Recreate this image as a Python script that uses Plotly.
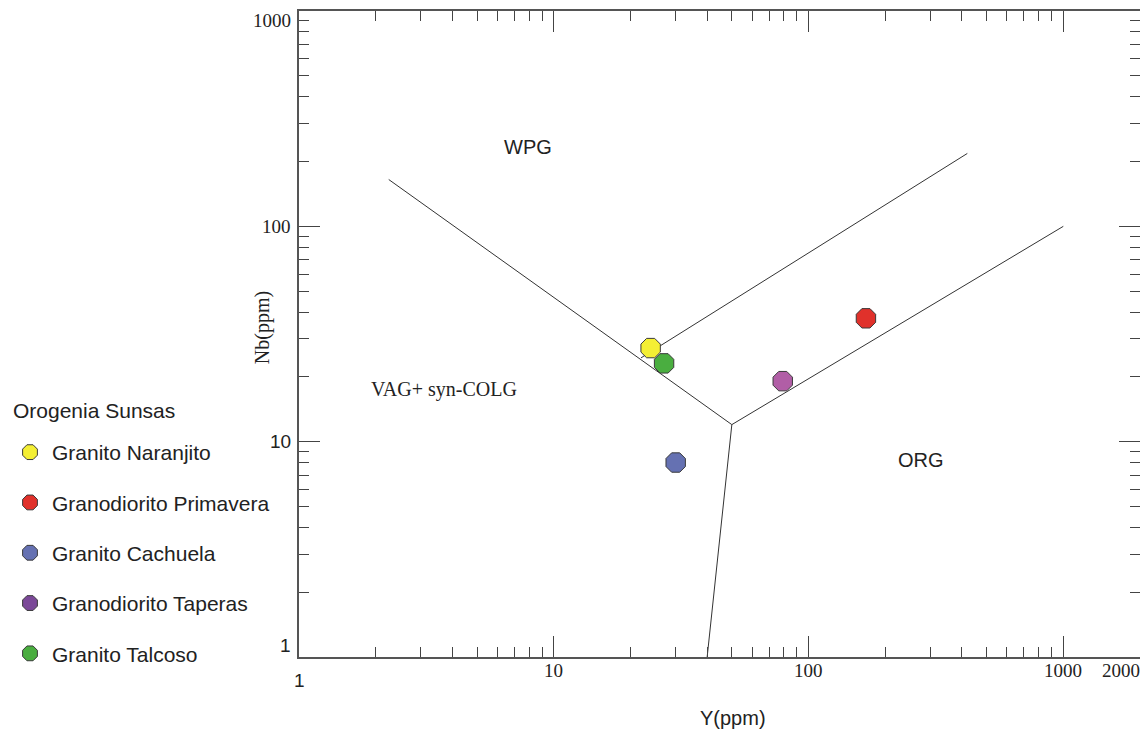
import math
import plotly.graph_objects as go

# ---------------- data ----------------
units = ["Granito Naranjito", "Granodiorito Primavera", "Granito Cachuela",
         "Granodiorito Taperas", "Granito Talcoso"]
y_ppm = [24.0, 168.0, 30.1, 79.2, 27.1]
nb_ppm = [27.2, 37.4, 8.0, 19.1, 23.1]
point_colors = ["#f4ef34", "#e0312b", "#6571b2", "#b15ea6", "#4aae40"]
legend_colors = ["#f4ef34", "#e0312b", "#6571b2", "#7b4898", "#4aae40"]

# tectonic discrimination boundaries (Pearce et al. 1984)
boundary_y = [[2.25, 50], [50, 40], [50, 1000], [22, 420]]
boundary_nb = [[165, 12], [12, 1], [12, 100], [24.5, 218]]

region_names = ["WPG", "VAG+ syn-COLG", "ORG"]
region_y = [7.9, 3.7, 276]
region_nb = [233, 17.5, 8.2]
region_fonts = ["Liberation Sans", "Liberation Serif", "Liberation Sans"]

x_tick_vals = [1, 10, 100, 1000, 2000]
x_tick_text = ["1", "10", "100", "1000", "2000"]
x_tick_fonts = ["Liberation Sans", "Liberation Serif", "Liberation Serif",
                "Liberation Serif", "Liberation Serif"]
x_tick_anchor = ["center", "center", "center", "center", "right"]
x_tick_shift = [-23, -13, -13, -13, -13]

y_tick_vals = [1, 10, 100, 1000]
y_tick_text = ["1", "10", "100", "1000"]
y_tick_fonts = ["Liberation Sans", "Liberation Sans", "Liberation Serif", "Liberation Serif"]
y_tick_shift = [12, 0, 0, -9]

legend_title = "Orogenia Sunsas"

# ---------------- figure ----------------
# the page body has an 8px margin, so the figure is sized/offset to compensate
W, H = 1140, 725
ML, MR, MT, MB = 291, 8, 2.5, 76
plot_h = H - MT - MB
plot_w = W - ML - MR

fig = go.Figure()

for bx, by in zip(boundary_y, boundary_nb):
    fig.add_trace(go.Scatter(x=bx, y=by, mode="lines",
                             line=dict(color="#333333", width=1),
                             showlegend=False, hoverinfo="skip"))

for name, xv, yv, c in zip(units, y_ppm, nb_ppm, point_colors):
    fig.add_trace(go.Scatter(x=[xv], y=[yv], mode="markers", name=name,
                             marker=dict(symbol="octagon", size=21, color=c,
                                         line=dict(color="#3a3a3a", width=1)),
                             showlegend=False))

for name, c in zip(units, legend_colors):
    fig.add_trace(go.Scatter(x=[None], y=[None], mode="markers", name=name,
                             legendgroup=name,
                             marker=dict(symbol="octagon", size=20, color=c,
                                         line=dict(color="#3a3a3a", width=1))))

annotations = []
for t, xv, yv, f in zip(region_names, region_y, region_nb, region_fonts):
    annotations.append(dict(x=math.log10(xv), y=math.log10(yv), xref="x", yref="y",
                            text=t, showarrow=False,
                            font=dict(family=f, size=20, color="#222222")))

for v, t, f, a, s in zip(x_tick_vals, x_tick_text, x_tick_fonts, x_tick_anchor, x_tick_shift):
    annotations.append(dict(x=math.log10(v), y=0, xref="x", yref="paper",
                            text=t, showarrow=False, xanchor=a, yanchor="middle",
                            yshift=s, xshift=(2 if a == "right" else 0),
                            font=dict(family=f, size=19, color="#222222")))

for v, t, f, s in zip(y_tick_vals, y_tick_text, y_tick_fonts, y_tick_shift):
    annotations.append(dict(x=0, y=math.log10(v), xref="paper", yref="y",
                            text=t, showarrow=False, xanchor="right", yanchor="middle",
                            xshift=-6, yshift=s,
                            font=dict(family=f, size=19, color="#222222")))

annotations.append(dict(x=0, y=0.509, xref="paper", yref="paper", text="Nb(ppm)",
                        showarrow=False, textangle=-90, xshift=-37,
                        xanchor="center", yanchor="middle",
                        font=dict(family="Liberation Serif", size=20, color="#222222")))
annotations.append(dict(x=0.516, y=0, xref="paper", yref="paper", text="Y(ppm)",
                        showarrow=False, yshift=-61, xanchor="center", yanchor="middle",
                        font=dict(family="Liberation Sans", size=20, color="#222222")))
# legend heading
annotations.append(dict(x=0, y=(H - MB - 402) / plot_h, xref="paper", yref="paper",
                        text=legend_title, showarrow=False, xanchor="left",
                        yanchor="middle", xshift=3 - ML,
                        font=dict(family="Liberation Sans", size=21, color="#222222")))

axis_common = dict(type="log", showgrid=False, zeroline=False,
                   showline=True, linecolor="#555555", linewidth=1.5,
                   mirror="ticks", ticks="inside", ticklen=21, tickwidth=1.3,
                   tickcolor="#444444", tickmode="linear", dtick=1,
                   showticklabels=False,
                   minor=dict(ticks="inside", ticklen=10, tickwidth=1.3,
                              tickcolor="#444444", dtick="D1", showgrid=False))

fig.update_layout(
    width=W, height=H,
    margin=dict(l=ML, r=MR, t=MT, b=MB),
    paper_bgcolor="white", plot_bgcolor="white",
    xaxis=dict(range=[0, math.log10(2000)], **axis_common),
    yaxis=dict(range=[0, 3], **axis_common),
    annotations=annotations,
    showlegend=True,
    legend=dict(xref="container", yref="container", x=0, y=1 - 424 / H,
                xanchor="left", yanchor="top",
                font=dict(family="Liberation Sans", size=21, color="#222222"),
                itemwidth=34, tracegroupgap=20, bgcolor="rgba(0,0,0,0)"),
    font=dict(family="Liberation Sans"),
)

fig.write_html("out.html")
